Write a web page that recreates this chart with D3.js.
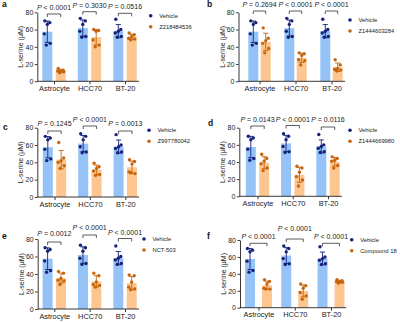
<!DOCTYPE html>
<html>
<head>
<meta charset="utf-8">
<script src="https://cdn.jsdelivr.net/npm/d3@7"></script>
<style>
 body { margin: 0; background: #fff; }
 svg { display: block; }
 text { font-family: "Liberation Sans", Arial, sans-serif; }
</style>
</head>
<body>
<svg id="chart" width="400" height="322"></svg>
<script>
// ---- data ----
var categories = ['Astrocyte', 'HCC70', 'BT-20'];
var panelLetters = ['a', 'b', 'c', 'd', 'e', 'f'];
var compounds = ['Z218484536', 'Z1444603284', 'Z997780042', 'Z1444669980', 'NCT-503', 'Compound 18'];
var yTicks = [0, 20, 40, 60, 80];

// vehicle replicates (same control in every panel), per cell line
var vehicle = [
 [70, 68, 66, 55, 44, 42],
 [73, 70, 66, 58, 52, 51],
 [72, 60, 58, 56, 52, 51]
];

// treated replicates, per panel then per cell line
var treated = [
 [[15, 13, 12, 12, 11, 10], [60, 59, 58, 48, 42, 40], [56, 54, 52, 50, 49, 48]],
 [[62, 50, 47, 44, 38, 33], [33, 32, 30, 25, 24, 19], [25, 19, 15, 14, 13, 12]],
 [[63, 45, 42, 40, 36, 33], [39, 35, 33, 30, 26, 25], [43, 41, 38, 29, 27, 28]],
 [[49, 44, 41, 38, 33, 30], [35, 33, 28, 23, 19, 12], [46, 44, 42, 41, 36, 33]],
 [[43, 41, 35, 33, 32, 28], [41, 38, 31, 28, 27, 25], [39, 38, 31, 25, 23, 22]],
 [[33, 31, 28, 23, 22, 22], [28, 26, 23, 18, 14, 10], [33, 32, 31, 31, 30, 29]]
];

var pValues = [
 ['< 0.0001', '= 0.3030', '= 0.0516'],
 ['= 0.2694', '< 0.0001', '< 0.0001'],
 ['= 0.1245', '< 0.0001', '= 0.0013'],
 ['= 0.0143', '< 0.0001', '= 0.0116'],
 ['= 0.0012', '< 0.0001', '< 0.0001'],
 ['< 0.0001', '< 0.0001', '< 0.0001']
];

// ---- layout of each panel (pixels) ----
var layout = [
 {axisX: 37.3, top: 12.3, bottom: 81.3, c0: 54, c2: 125, off: 6.7, xEnd: 139,
  legX: 150.7, legY: 15.7, labX: 2, labY: 7, brk: [14, 11.7, 13.3], txt: [10.3, 7.7, 8.8]},
 {axisX: 238.5, top: 12.3, bottom: 81.3, c0: 259.5, c2: 331.5, off: 6.2, xEnd: 345,
  legX: 350, legY: 20, labX: 207, labY: 7, brk: [11, 11, 11], txt: [7.3, 7.3, 7.3]},
 {axisX: 37.3, top: 127.7, bottom: 197, c0: 54.5, c2: 125.3, off: 6.7, xEnd: 139,
  legX: 149, legY: 130.3, labX: 3, labY: 129.5, brk: [131, 126, 131], txt: [126.3, 121.7, 126.3]},
 {axisX: 239.3, top: 127.7, bottom: 196.3, c0: 257.5, c2: 328, off: 6.7, xEnd: 342,
  legX: 350, legY: 130.3, labX: 208, labY: 126, brk: [126, 125.5, 127], txt: [122.3, 122.3, 122.3]},
 {axisX: 37.7, top: 239, bottom: 309, c0: 54.3, c2: 125, off: 6.7, xEnd: 139,
  legX: 144, legY: 239, labX: 2, labY: 239, brk: [242, 235, 238.5], txt: [236.3, 229.7, 234.5]},
 {axisX: 240, top: 240, bottom: 307.7, c0: 258.5, c2: 331, off: 8.5, xEnd: 346,
  legX: 351.7, legY: 239.7, labX: 207, labY: 239, brk: [243.3, 239, 243.3], txt: [239.3, 231, 239.3]}
];

var barWidth = 10;
var jitter = [-2.5, 2.5, 0, -3, 3, -1];
var colVehBar = '#95c2f7', colVehDot = '#16217c';
var colDrugBar = '#fdc690', colDrugDot = '#c6650d';
var fontMain = 7;

var svg = d3.select('#chart');

/* draws one bar with its SD error bar and replicate dots
 - g : group of the panel
 - vals : replicate values
 - cx : centre of the bar
 - y : value scale
 - fillBar, colDot : colours */
function drawBar(g, vals, cx, y, fillBar, colDot)
{
 var m = d3.mean(vals);
 var sd = d3.deviation(vals);

 g.append('rect')
  .attr('x', cx - barWidth/2)
  .attr('y', y(m))
  .attr('width', barWidth)
  .attr('height', y(0) - y(m))
  .style('fill', fillBar);

 // error bar, mean +- SD
 g.append('line')
  .attr('x1', cx).attr('x2', cx)
  .attr('y1', y(m - sd)).attr('y2', y(m + sd))
  .style('stroke', colDot).style('stroke-width', '0.9px');
 [m - sd, m + sd].forEach(function(v){
  g.append('line')
   .attr('x1', cx - 2.6).attr('x2', cx + 2.6)
   .attr('y1', y(v)).attr('y2', y(v))
   .style('stroke', colDot).style('stroke-width', '0.9px');
 });

 g.selectAll(null).data(vals).enter().append('circle')
  .attr('cx', function(d, k){ return cx + jitter[k % jitter.length]; })
  .attr('cy', function(d){ return y(d); })
  .attr('r', 1.7)
  .style('fill', colDot);
}

function drawPanel(i)
{
 var lay = layout[i];
 var g = svg.append('g').attr('class', 'panel_' + panelLetters[i]);

 var y = d3.scaleLinear().domain([0, 80]).range([lay.bottom, lay.top]);
 var x = d3.scalePoint().domain(categories).range([lay.c0, lay.c2]);

 // bars, error bars and dots
 categories.forEach(function(c, j){
  drawBar(g, vehicle[j], x(c) - lay.off, y, colVehBar, colVehDot);
  drawBar(g, treated[i][j], x(c) + lay.off, y, colDrugBar, colDrugDot);
 });

 // y axis
 var yAx = g.append('g')
  .attr('transform', 'translate(' + lay.axisX + ',0)')
  .call(d3.axisLeft(y).tickValues(yTicks).tickSize(2.5).tickSizeOuter(0).tickPadding(1.5));
 yAx.attr('font-size', fontMain).attr('font-family', null);
 yAx.selectAll('path, line').style('stroke', '#222').style('stroke-width', '0.9px');
 yAx.selectAll('text').style('fill', '#222');

 // x axis
 g.append('line')
  .attr('x1', lay.axisX).attr('x2', lay.xEnd)
  .attr('y1', y(0)).attr('y2', y(0))
  .style('stroke', '#222').style('stroke-width', '0.9px');
 var xAx = g.append('g')
  .attr('transform', 'translate(0,' + y(0) + ')')
  .call(d3.axisBottom(x).tickSize(3).tickPadding(1.5));
 xAx.select('.domain').remove();
 xAx.attr('font-size', 7.4).attr('font-family', null);
 xAx.selectAll('line').style('stroke', '#222').style('stroke-width', '0.9px');
 xAx.selectAll('text').style('fill', '#222');

 // y label
 g.append('text')
  .attr('transform', 'translate(' + (lay.axisX - 14) + ',' + ((lay.top + lay.bottom)/2) + ') rotate(-90)')
  .attr('text-anchor', 'middle')
  .attr('font-size', fontMain)
  .style('fill', '#222')
  .text('L-serine (\u03bcM)');

 // significance brackets
 categories.forEach(function(c, j){
  var x1 = x(c) - lay.off, x2 = x(c) + lay.off, by = lay.brk[j];
  g.append('path')
   .attr('d', 'M' + x1 + ',' + (by + 3) + 'V' + by + 'H' + x2 + 'V' + (by + 3))
   .style('fill', 'none').style('stroke', '#333').style('stroke-width', '0.8px');
  var t = g.append('text')
   .attr('x', x(c)).attr('y', lay.txt[j])
   .attr('text-anchor', 'middle')
   .attr('font-size', fontMain)
   .style('fill', '#222');
  t.append('tspan').style('font-style', 'italic').text('P');
  t.append('tspan').text(' ' + pValues[i][j]);
 });

 // legend
 var leg = [['Vehicle', colVehDot], [compounds[i], colDrugDot]];
 leg.forEach(function(l, k){
  g.append('circle')
   .attr('cx', lay.legX).attr('cy', lay.legY + k*11)
   .attr('r', 1.8).style('fill', l[1]);
  g.append('text')
   .attr('x', lay.legX + 8.5).attr('y', lay.legY + k*11 + 2)
   .attr('font-size', 5.8)
   .style('fill', '#222')
   .text(l[0]);
 });

 // panel letter
 g.append('text')
  .attr('x', lay.labX).attr('y', lay.labY)
  .attr('font-size', 8.5)
  .attr('font-weight', 'bold')
  .style('fill', '#111')
  .text(panelLetters[i]);
}

for (var i = 0; i < layout.length; i++) drawPanel(i);
</script>
</body>
</html>
